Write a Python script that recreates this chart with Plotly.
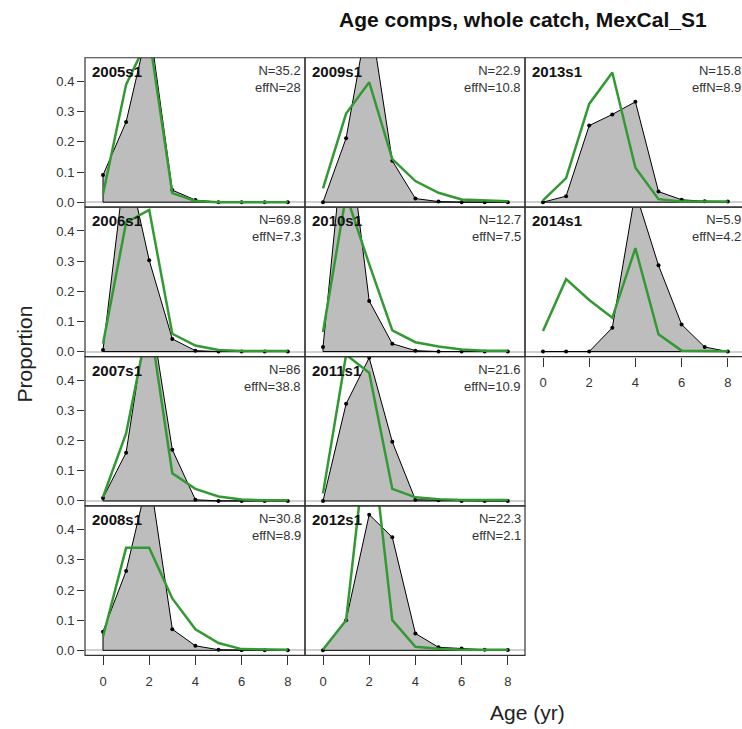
import plotly.graph_objects as go

ages = [0, 1, 2, 3, 4, 5, 6, 7, 8]

years = ["2005s1", "2006s1", "2007s1", "2008s1", "2009s1", "2010s1", "2011s1", "2012s1", "2013s1", "2014s1"]
n_vals = ["35.2", "69.8", "86", "30.8", "22.9", "12.7", "21.6", "22.3", "15.8", "5.9"]
effn_vals = ["28", "7.3", "38.8", "8.9", "10.8", "7.5", "10.9", "2.1", "8.9", "4.2"]

obs_2005 = [0.09, 0.266, 0.597, 0.04, 0.007, 0.0, 0.0, 0.0, 0.0]
exp_2005 = [0.026, 0.39, 0.55, 0.03, 0.004, 0.0, 0.0, 0.0, 0.0]
obs_2006 = [0.005, 0.647, 0.303, 0.042, 0.003, 0.0, 0.0, 0.0, 0.0]
exp_2006 = [0.026, 0.428, 0.47, 0.059, 0.02, 0.005, 0.002, 0.002, 0.002]
obs_2007 = [0.01, 0.16, 0.656, 0.17, 0.004, 0.0, 0.0, 0.0, 0.0]
exp_2007 = [0.013, 0.224, 0.607, 0.092, 0.04, 0.015, 0.005, 0.002, 0.002]
obs_2008 = [0.062, 0.263, 0.588, 0.07, 0.015, 0.002, 0.0, 0.0, 0.0]
exp_2008 = [0.045, 0.34, 0.34, 0.172, 0.07, 0.024, 0.004, 0.002, 0.002]
obs_2009 = [0.0, 0.212, 0.637, 0.137, 0.012, 0.002, 0.0, 0.0, 0.0]
exp_2009 = [0.046, 0.294, 0.398, 0.143, 0.07, 0.031, 0.009, 0.006, 0.003]
obs_2010 = [0.015, 0.788, 0.168, 0.026, 0.003, 0.0, 0.0, 0.0, 0.0]
exp_2010 = [0.065, 0.52, 0.29, 0.07, 0.031, 0.017, 0.007, 0.003, 0.003]
obs_2011 = [0.0, 0.322, 0.475, 0.196, 0.004, 0.002, 0.0, 0.0, 0.0]
exp_2011 = [0.025, 0.485, 0.425, 0.04, 0.012, 0.006, 0.003, 0.003, 0.003]
obs_2012 = [0.0, 0.1, 0.45, 0.375, 0.056, 0.01, 0.006, 0.002, 0.001]
exp_2012 = [0.003, 0.1, 0.78, 0.1, 0.012, 0.005, 0.002, 0.002, 0.002]
obs_2013 = [0.0, 0.02, 0.254, 0.291, 0.333, 0.035, 0.008, 0.003, 0.002]
exp_2013 = [0.006, 0.08, 0.326, 0.43, 0.114, 0.01, 0.002, 0.002, 0.002]
obs_2014 = [0.0, 0.0, 0.0, 0.079, 0.53, 0.286, 0.09, 0.015, 0.0]
exp_2014 = [0.068, 0.24, 0.171, 0.112, 0.343, 0.057, 0.003, 0.002, 0.001]

obs_list = [obs_2005, obs_2006, obs_2007, obs_2008, obs_2009, obs_2010, obs_2011, obs_2012, obs_2013, obs_2014]
exp_list = [exp_2005, exp_2006, exp_2007, exp_2008, exp_2009, exp_2010, exp_2011, exp_2012, exp_2013, exp_2014]

W, H = 742, 729
col_left = [85, 305, 525]
col_w = 220
row_top = [58, 208, 358, 508]
row_h = 150
px_per_age = 23.1
x0_off = 18
y_range = [-0.0165, 0.479]

GREY = "#bdbdbd"
GREEN = "#339933"
FONT = "Liberation Sans, Arial, sans-serif"

fig = go.Figure()
layout = dict(
    width=W, height=H, margin=dict(l=0, r=0, t=0, b=0),
    paper_bgcolor="white", plot_bgcolor="white", showlegend=False,
    font=dict(family=FONT, color="#222"),
)
shapes = []
annotations = []

for i, yr in enumerate(years):
    col = i // 4 if i < 8 else 2
    row = i % 4 if i < 8 else i - 8
    k = i + 1
    xa = "xaxis" if k == 1 else f"xaxis{k}"
    ya = "yaxis" if k == 1 else f"yaxis{k}"
    xr = "x" if k == 1 else f"x{k}"
    yrf = "y" if k == 1 else f"y{k}"
    left = col_left[col]
    right = min(left + col_w, W)
    top = row_top[row]
    bot = top + row_h
    xmin = -x0_off / px_per_age
    xmax = xmin + (right - left) / px_per_age
    show_x = (col < 2 and row == 3) or (col == 2 and row == 1)
    show_y = col == 0
    layout[xa] = dict(
        domain=[left / W, right / W], range=[xmin, xmax], anchor=yrf,
        showgrid=False, zeroline=False, showline=False,
        tickvals=[0, 2, 4, 6, 8] if show_x else [],
        ticks="outside" if show_x else "", ticklen=9, tickcolor="#333",
        ticklabelstandoff=5,
        showticklabels=show_x, tickfont=dict(size=13, color="#333", family=FONT),
    )
    layout[ya] = dict(
        domain=[1 - bot / H, 1 - top / H], range=y_range, anchor=xr,
        showgrid=False, zeroline=True, zerolinecolor="#d0d0d0", zerolinewidth=1.5,
        showline=False,
        tickvals=[0, 0.1, 0.2, 0.3, 0.4] if show_y else [],
        ticktext=["0.0", "0.1", "0.2", "0.3", "0.4"],
        ticks="outside" if show_y else "", ticklen=7, tickcolor="#333",
        showticklabels=show_y, tickfont=dict(size=13, color="#333", family=FONT),
    )
    obs = obs_list[i]
    exp = exp_list[i]
    fig.add_trace(go.Scatter(
        x=[ages[0]] + ages + [ages[-1], ages[0]], y=[0] + obs + [0, 0],
        mode="lines", fill="toself", fillcolor=GREY,
        line=dict(color="black", width=1), xaxis=xr, yaxis=yrf, hoverinfo="skip",
    ))
    fig.add_trace(go.Scatter(
        x=ages, y=obs, mode="markers", marker=dict(color="black", size=4),
        xaxis=xr, yaxis=yrf, cliponaxis=True,
    ))
    fig.add_trace(go.Scatter(
        x=ages, y=exp, mode="lines", line=dict(color=GREEN, width=2.5),
        xaxis=xr, yaxis=yrf,
    ))
    # panel border
    bx0, bx1 = left / W, (left + col_w) / W
    by0, by1 = 1 - bot / H, 1 - top / H
    shapes.append(dict(type="rect", xref="paper", yref="paper", x0=bx0, x1=bx1, y0=by0, y1=by1,
                       line=dict(color="#333", width=1.2), fillcolor="rgba(0,0,0,0)", layer="above"))
    annotations.append(dict(text=f"<b>{yr}</b>", xref=f"{xr} domain", yref=f"{yrf} domain",
                            x=5 / (right - left), y=1 - 3 / row_h, xanchor="left", yanchor="top",
                            showarrow=False, font=dict(size=15, color="#111", family=FONT)))
    annotations.append(dict(text=f"N={n_vals[i]}<br>effN={effn_vals[i]}",
                            xref="paper", yref="paper",
                            x=(left + col_w - 2) / W, y=1 - (top + 3) / H, xanchor="right", yanchor="top",
                            align="right", showarrow=False,
                            font=dict(size=13, color="#333", family=FONT)))

annotations.append(dict(text="<b>Age comps, whole catch, MexCal_S1</b>", xref="paper", yref="paper",
                        x=523 / W, y=1 - 20 / H, xanchor="center", yanchor="middle", showarrow=False,
                        font=dict(size=21, color="#111", family=FONT)))
annotations.append(dict(text="Proportion", xref="paper", yref="paper", x=25 / W, y=1 - 355 / H,
                        xanchor="center", yanchor="middle", textangle=-90, showarrow=False,
                        font=dict(size=21, color="#222", family=FONT)))
annotations.append(dict(text="Age (yr)", xref="paper", yref="paper", x=527 / W, y=1 - 715 / H,
                        xanchor="center", yanchor="middle", showarrow=False,
                        font=dict(size=21, color="#222", family=FONT)))

layout["shapes"] = shapes
layout["annotations"] = annotations
fig.update_layout(**layout)
fig.write_html("out.html")
